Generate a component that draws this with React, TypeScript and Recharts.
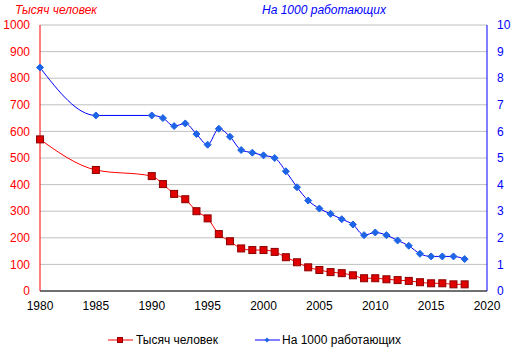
import {
  LineChart,
  Line,
  XAxis,
  YAxis,
  CartesianGrid,
} from 'recharts';

const years = [
  1980, 1985, 1990, 1991, 1992, 1993, 1994, 1995, 1996, 1997, 1998, 1999,
  2000, 2001, 2002, 2003, 2004, 2005, 2006, 2007, 2008, 2009, 2010, 2011,
  2012, 2013, 2014, 2015, 2016, 2017, 2018,
];
const thousands = [
  570, 455, 432, 402, 365, 345, 300, 273, 214, 187, 160, 154,
  154, 147, 127, 108, 89, 79, 71, 67, 59, 48, 48, 44,
  41, 38, 33, 29, 29, 25, 25,
];
const per1000 = [
  8.4, 6.6, 6.6, 6.5, 6.2, 6.3, 5.9, 5.5, 6.1, 5.8, 5.3, 5.2,
  5.1, 5.0, 4.5, 3.9, 3.4, 3.1, 2.9, 2.7, 2.5, 2.1, 2.2, 2.1,
  1.9, 1.7, 1.4, 1.3, 1.3, 1.3, 1.2,
];
const xTicks = [1980, 1985, 1990, 1995, 2000, 2005, 2010, 2015, 2020];
const leftTicks = [0, 100, 200, 300, 400, 500, 600, 700, 800, 900, 1000];
const rightTicks = [0, 1, 2, 3, 4, 5, 6, 7, 8, 9, 10];

const data = years.map((year, i) => ({
  year,
  thousands: thousands[i],
  per1000: per1000[i],
}));

const FONT = '"Liberation Sans", Arial, sans-serif';
const RED = '#FF0000';
const BLUE = '#0000FF';

function SquareDot(props: any) {
  const { cx, cy } = props;
  if (cx == null || cy == null) return null;
  return (
    <rect x={cx - 3.5} y={cy - 3.5} width={7} height={7} fill="#E00000" stroke="#8B0000" strokeWidth={1} />
  );
}

function DiamondDot(props: any) {
  const { cx, cy } = props;
  if (cx == null || cy == null) return null;
  const r = 3.5;
  return (
    <polygon
      points={`${cx},${cy - r} ${cx + r},${cy} ${cx},${cy + r} ${cx - r},${cy}`}
      fill="#1E64E6"
      stroke="#1E64E6"
    />
  );
}

function ChartLegend() {
  return (
    <div style={{ position: 'absolute', left: 108, top: 333, display: 'flex', alignItems: 'center', fontFamily: FONT, fontSize: 12, color: '#000' }}>
      <svg width={28} height={10}>
        <line x1={0} y1={5} x2={25} y2={5} stroke={RED} />
        <rect x={9.5} y={2.5} width={5} height={5} fill="#E00000" stroke="#8B0000" />
      </svg>
      <span style={{ marginRight: 37 }}>Тысяч человек</span>
      <svg width={27} height={10}>
        <line x1={0} y1={5} x2={25} y2={5} stroke={BLUE} />
        <polygon points="12,2.5 14.5,5 12,7.5 9.5,5" fill="#1E64E6" />
      </svg>
      <span>На 1000 работающих</span>
    </div>
  );
}

export default function App() {
  return (
    <div style={{ position: 'absolute', left: 0, top: 0, width: 514, height: 358, background: '#fff' }}>
      <div style={{ position: 'absolute', left: 15, top: 3, color: RED, fontStyle: 'italic', fontFamily: FONT, fontSize: 12 }}>
        Тысяч человек
      </div>
      <div style={{ position: 'absolute', left: 262, top: 3, color: BLUE, fontStyle: 'italic', fontFamily: FONT, fontSize: 12 }}>
        На 1000 работающих
      </div>
      <LineChart
        width={514}
        height={358}
        data={data}
        margin={{ top: 25, right: 0, bottom: 47, left: 0 }}
        style={{ fontFamily: FONT }}
      >
        <CartesianGrid yAxisId="left" vertical={false} stroke="#C0C0C0" />
        <XAxis
          dataKey="year"
          type="number"
          domain={[1980, 2020]}
          ticks={xTicks}
          height={20}
          stroke="#000"
          tickLine={false}
          tick={{ fill: '#000', fontSize: 12 }}
          tickMargin={4}
        />
        <YAxis
          yAxisId="left"
          orientation="left"
          width={40}
          domain={[0, 1000]}
          ticks={leftTicks}
          stroke={RED}
          tickLine={false}
          tickMargin={4}
          tick={{ fill: RED, fontSize: 12 }}
        />
        <YAxis
          yAxisId="right"
          orientation="right"
          width={27}
          domain={[0, 10]}
          ticks={rightTicks}
          stroke={BLUE}
          tickLine={false}
          tickMargin={4}
          tick={{ fill: BLUE, fontSize: 12 }}
        />
        <Line
          yAxisId="left"
          type="monotone"
          dataKey="thousands"
          stroke={RED}
          strokeWidth={1}
          dot={<SquareDot />}
          isAnimationActive={false}
        />
        <Line
          yAxisId="right"
          type="monotone"
          dataKey="per1000"
          stroke={BLUE}
          strokeWidth={1}
          dot={<DiamondDot />}
          isAnimationActive={false}
        />
      </LineChart>
      <ChartLegend />
    </div>
  );
}
